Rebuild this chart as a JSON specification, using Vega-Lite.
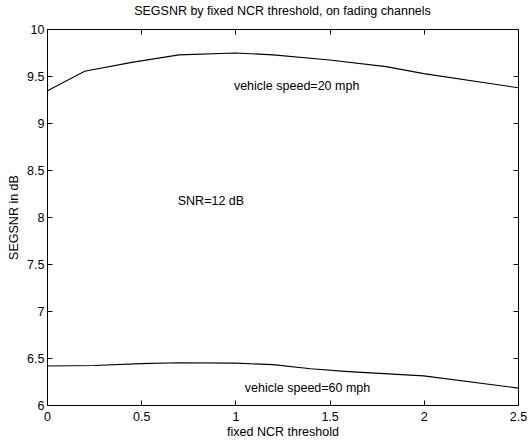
{
  "$schema": "https://vega.github.io/schema/vega-lite/v6.json",
  "autosize": "none",
  "width": 471,
  "height": 376,
  "padding": {"left": 47, "top": 29, "right": 12, "bottom": 37},
  "background": "white",
  "title": {"text": "SEGSNR by fixed NCR threshold, on fading channels", "font": "Liberation Sans", "fontSize": 12.5, "fontWeight": "normal", "color": "black", "offset": 6},
  "config": {
    "view": {"stroke": "black", "strokeWidth": 1},
    "axis": {"labelFont": "Liberation Sans", "titleFont": "Liberation Sans", "labelFontSize": 12.5, "titleFontSize": 12.5, "titleFontWeight": "normal", "labelColor": "black", "titleColor": "black", "domain": false, "grid": false, "tickColor": "black", "tickSize": -5, "labelPadding": 9, "labelFlush": false, "labelOverlap": false, "format": "~g"}
  },
  "datasets": {
    "curves": [
      {"t": 0.0, "snr": 9.34, "s": "20 mph"},
      {"t": 0.2, "snr": 9.55, "s": "20 mph"},
      {"t": 0.45, "snr": 9.645, "s": "20 mph"},
      {"t": 0.7, "snr": 9.725, "s": "20 mph"},
      {"t": 1.0, "snr": 9.745, "s": "20 mph"},
      {"t": 1.2, "snr": 9.725, "s": "20 mph"},
      {"t": 1.5, "snr": 9.67, "s": "20 mph"},
      {"t": 1.8, "snr": 9.6, "s": "20 mph"},
      {"t": 2.0, "snr": 9.525, "s": "20 mph"},
      {"t": 2.5, "snr": 9.375, "s": "20 mph"},
      {"t": 0.0, "snr": 6.415, "s": "60 mph"},
      {"t": 0.25, "snr": 6.42, "s": "60 mph"},
      {"t": 0.5, "snr": 6.44, "s": "60 mph"},
      {"t": 0.7, "snr": 6.45, "s": "60 mph"},
      {"t": 1.0, "snr": 6.445, "s": "60 mph"},
      {"t": 1.2, "snr": 6.43, "s": "60 mph"},
      {"t": 1.4, "snr": 6.385, "s": "60 mph"},
      {"t": 1.6, "snr": 6.355, "s": "60 mph"},
      {"t": 2.0, "snr": 6.31, "s": "60 mph"},
      {"t": 2.5, "snr": 6.18, "s": "60 mph"}
    ],
    "notes": [
      {"t": 1.325, "snr": 9.39, "label": "vehicle speed=20 mph"},
      {"t": 0.87, "snr": 8.17, "label": "SNR=12 dB"},
      {"t": 1.383, "snr": 6.18, "label": "vehicle speed=60 mph"}
    ]
  },
  "layer": [
    {
      "data": {"name": "curves"},
      "mark": {"type": "line", "color": "black", "strokeWidth": 1.1},
      "encoding": {
        "x": {"field": "t", "type": "quantitative", "scale": {"domain": [0, 2.5], "nice": false}, "axis": {"title": "fixed NCR threshold", "values": [0, 0.5, 1, 1.5, 2, 2.5], "titlePadding": 3, "labelPadding": 10}},
        "y": {"field": "snr", "type": "quantitative", "scale": {"domain": [6, 10], "nice": false, "zero": false}, "axis": {"title": "SEGSNR in dB", "values": [6, 6.5, 7, 7.5, 8, 8.5, 9, 9.5, 10], "titlePadding": 6, "labelPadding": 8}},
        "detail": {"field": "s"}
      }
    },
    {
      "data": {"name": "notes"},
      "mark": {"type": "text", "font": "Liberation Sans", "fontSize": 12.5, "color": "black"},
      "encoding": {
        "x": {"field": "t", "type": "quantitative", "axis": {"orient": "top", "title": null, "labels": false, "values": [0, 0.5, 1, 1.5, 2, 2.5]}},
        "y": {"field": "snr", "type": "quantitative", "axis": {"orient": "right", "title": null, "labels": false, "values": [6, 6.5, 7, 7.5, 8, 8.5, 9, 9.5, 10]}},
        "text": {"field": "label"}
      }
    }
  ],
  "resolve": {"axis": {"x": "independent", "y": "independent"}}
}
